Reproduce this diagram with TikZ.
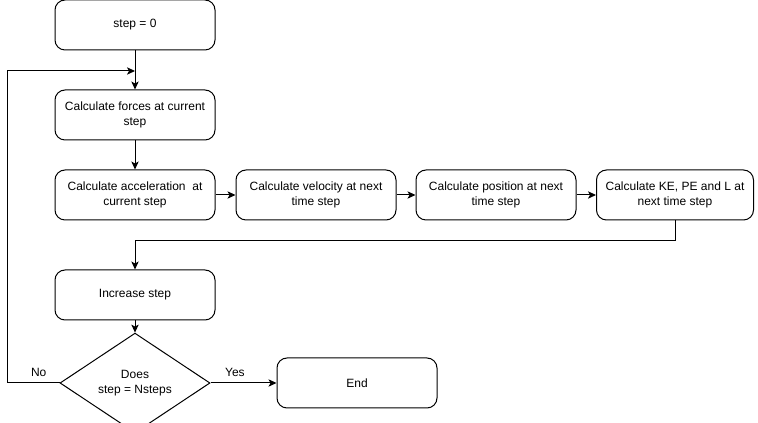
\documentclass[tikz,border=0pt]{standalone}
\usepackage{fontspec}
\setmainfont{Liberation Sans}
\usetikzlibrary{shapes.geometric, arrows, arrows.meta, positioning}
\tikzstyle{process} = [rectangle, rounded corners=7.5pt, minimum width=120pt, minimum height=37.5pt, text centered, align=center, draw=black, line width=0.75pt]
\tikzstyle{decision} = [diamond, minimum width=112.5pt, minimum height=60pt, inner sep=0pt, text centered, align=center, draw=black, line width=0.75pt]
\tikzstyle{arrow} = [line width=0.75pt,->,>={Stealth[length=6pt,width=5.5pt,inset=1.5pt]}]
\tikzstyle{line} = [draw, line width=0.75pt]

\begin{document}
\begin{tikzpicture}[x=0.75pt, y=-0.75pt, font=\fontsize{9}{11.5}\selectfont]
   \useasboundingbox (0,0) rectangle (758,423);
   \node (s) [process] at (135,25) {step = 0};
   \node (f) [process, below of=s, node distance=67.5pt] {Calculate forces at current\\step};
   \node (a) [process, below of=f, node distance=60pt] {Calculate acceleration~~at\\current step};
   \node (v) [process, right of=a, node distance=135.75pt] {Calculate velocity at next\\time step};
   \node (p) [process, right of=v, node distance=135pt] {Calculate position at next\\time step};
   \node (k) [process, right of=p, node distance=134.25pt, minimum width=117.75pt] {Calculate KE, PE and L at\\next time step};
   \node (i) [process, below of=a, node distance=75pt] {Increase step};
   \node (d) [decision, below of=i, node distance=66pt] {Does\\step = Nsteps};
   \node (e) [process, right of=d, node distance=166.5pt] {End};
   \coordinate (j) at (135,71);
   \draw [arrow] (s) -- (f);
   \draw [arrow] (f) -- (a);
   \draw [arrow] (a) -- (v);
   \draw [arrow] (v) -- (p);
   \draw [arrow] (p) -- (k);
   \draw [arrow] (k.south) -- ++(0,20) -| (i.north);
   \draw [arrow] (i) -- (d);
   \draw [arrow] (d) -- node[above=1pt, pos=0.37] {Yes} (e);
   \draw [arrow] (d.west) -- node[above=1pt, pos=0.4] {No} ++(-52,0) |- (j);
\end{tikzpicture}
\end{document}
